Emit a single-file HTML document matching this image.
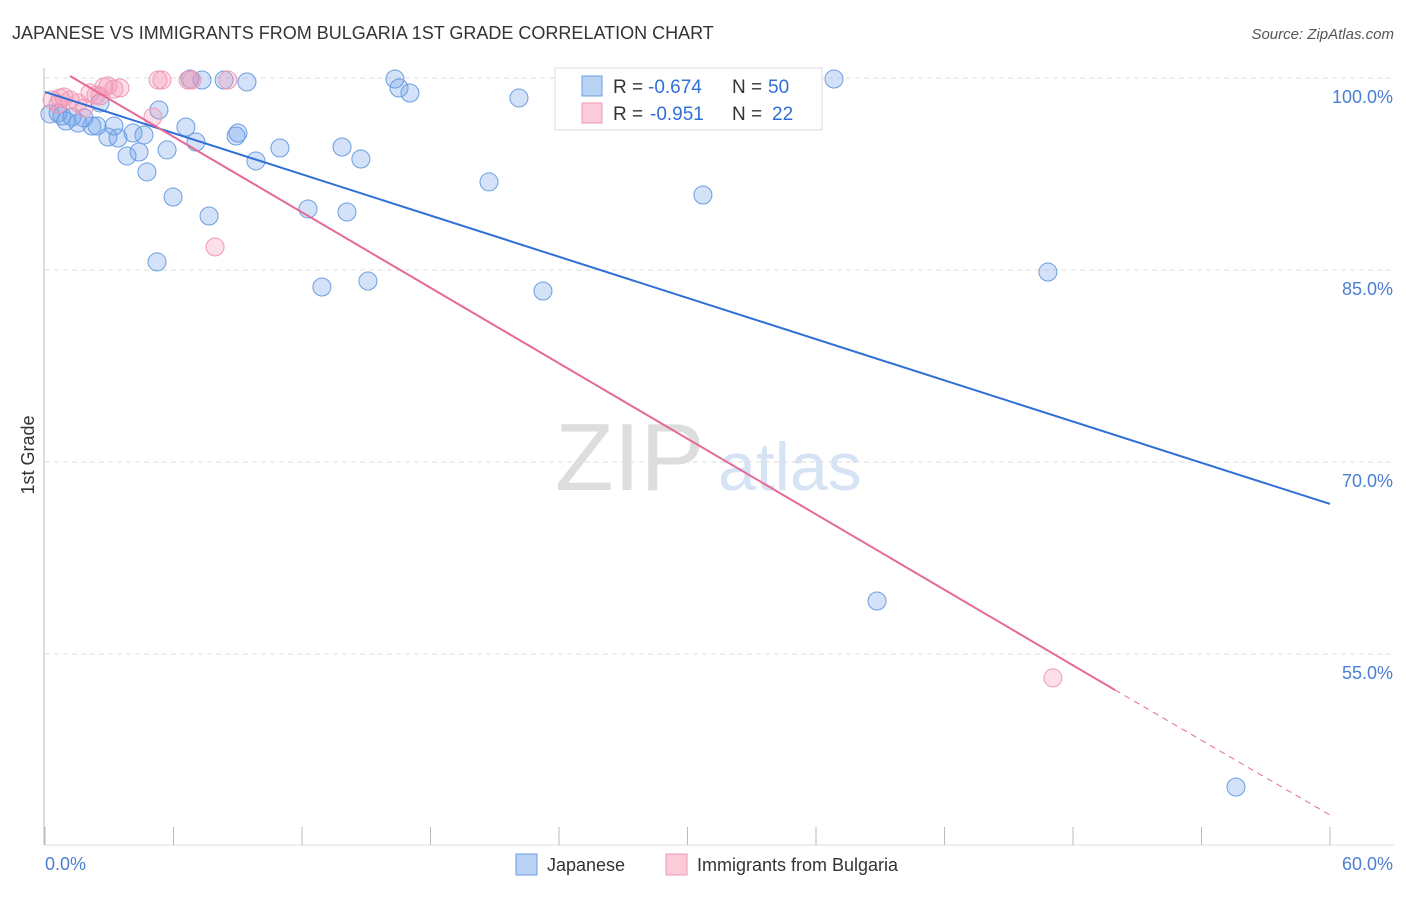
<!DOCTYPE html>
<html><head><meta charset="utf-8"><style>
body{margin:0;background:#fff;font-family:"Liberation Sans",sans-serif;}
svg text{font-family:"Liberation Sans",sans-serif;}
</style></head><body>
<svg id="chart" width="1406" height="892">
<text x="12" y="39" font-size="18" fill="#333">JAPANESE VS IMMIGRANTS FROM BULGARIA 1ST GRADE CORRELATION CHART</text>
<text x="1394" y="39" font-size="15" fill="#555" font-style="italic" text-anchor="end">Source: ZipAtlas.com</text>
<text x="555" y="490" font-size="96" fill="#ddd" font-family="Liberation Serif,serif">ZIP</text>
<text x="718" y="490" font-size="68" fill="#d5e3f5">atlas</text>
<text transform="translate(34,455) rotate(-90)" font-size="18" fill="#333" text-anchor="middle">1st Grade</text>
<g id="grid"></g><g id="marks"></g>
<g>
<rect x="555" y="68" width="267" height="62" fill="#fff" stroke="#ddd"/>
<rect x="582" y="76" width="20" height="20" fill="#b9d3f5" stroke="#6b9ee0"/>
<rect x="582" y="103" width="20" height="20" fill="#fbcbd9" stroke="#ee9ab4"/>
<text x="613" y="93" font-size="19" fill="#333">R =</text>
<text x="648" y="93" font-size="19" fill="#2f6fd6">-0.674</text>
<text x="732" y="93" font-size="19" fill="#333">N =</text>
<text x="768" y="93" font-size="19" fill="#2f6fd6">50</text>
<text x="613" y="120" font-size="19" fill="#333">R =</text>
<text x="650" y="120" font-size="19" fill="#2f6fd6">-0.951</text>
<text x="732" y="120" font-size="19" fill="#333">N =</text>
<text x="772" y="120" font-size="19" fill="#2f6fd6">22</text>
</g>
<g>
<rect x="516" y="854" width="21" height="21" fill="#b9d3f5" stroke="#6b9ee0"/>
<text x="547" y="871" font-size="18" fill="#333">Japanese</text>
<rect x="666" y="854" width="21" height="21" fill="#fbcbd9" stroke="#ee9ab4"/>
<text x="697" y="871" font-size="18" fill="#333">Immigrants from Bulgaria</text>
</g>
</svg>
<script>
const blueX=[0.23,0.61,0.98,1.26,1.54,1.82,2.19,2.43,2.57,2.94,3.22,3.41,3.83,4.11,4.39,4.62,4.76,5.32,5.70,5.98,6.58,7.05,7.66,5.23,7.33,8.36,9.43,8.92,9.01,9.85,10.97,12.28,12.93,13.87,14.10,14.75,15.08,16.34,16.53,17.04,20.73,22.13,23.25,30.72,36.84,46.83,38.85,55.61,6.77,0.79];
const blueY=[97.19,97.27,96.64,96.95,96.48,96.88,96.25,96.25,98.05,95.39,96.25,95.31,93.91,95.70,94.22,95.55,92.66,97.50,94.38,90.70,96.17,95.0,89.22,85.63,99.84,99.84,99.69,95.47,95.70,93.52,94.53,89.77,83.67,94.61,89.53,93.67,84.14,99.92,99.22,98.83,91.88,98.44,83.36,90.86,99.92,84.84,59.14,44.61,99.92,97.03];
const pinkX=[0.33,0.61,0.89,1.17,1.54,1.82,2.10,2.38,2.75,2.94,3.22,3.50,5.04,5.28,5.46,6.68,6.86,8.54,7.94,47.06,2.57,0.70];
const pinkY=[98.28,97.97,98.52,98.28,98.05,97.66,98.83,98.67,99.30,99.38,99.14,99.22,96.95,99.84,99.84,99.84,99.84,99.84,86.80,53.13,98.59,98.44];
const blueLine=[[0,98.91],[60,66.72]];
const pinkLine=[[1.167,100.16],[49.96,52.19],[60,42.42]];
const yTicks=[100,85,70,55];
const xTickLabels=["0.0%","60.0%"];
const NS="http://www.w3.org/2000/svg";
const sx=v=>45+v/60*1285, sy=v=>78+(100-v)/15*192;
function el(t,a,p){const e=document.createElementNS(NS,t);for(const k in a)e.setAttribute(k,a[k]);p.appendChild(e);return e;}
const grid=document.getElementById('grid'),marks=document.getElementById('marks');
yTicks.forEach(v=>{
 const l=el('line',{x1:45,x2:1394,y1:sy(v),y2:sy(v),stroke:'#ddd','stroke-dasharray':'5,4'},grid);
 
 
 const t=el('text',{x:1393,y:sy(v)+25,'font-size':18,fill:'#4a7fd4','text-anchor':'end'},grid);
 t.textContent=v.toFixed(1)+'%';
 
 
});
const ax=el('line',{x1:44,x2:44,y1:68,y2:845,stroke:'#bbb'},grid);


const bx=el('line',{x1:44,x2:1394,y1:845,y2:845,stroke:'#ddd'},grid);


for(let i=0;i<=10;i++){
 const t=el('line',{x1:sx(i*6),x2:sx(i*6),y1:827,y2:845,stroke:'#bbb'},grid);
 
 
}
xTickLabels.forEach((s,i)=>{
 const t=el('text',{x:i?1393:45,y:870,'font-size':18,fill:'#4a7fd4','text-anchor':i?'end':'start'},grid);
 t.textContent=s;
 
 
});
blueX.forEach((x,i)=>{
 const c=el('circle',{cx:sx(x),cy:sy(blueY[i]),r:9,fill:'rgba(110,160,235,0.3)',stroke:'#6b9ee0','stroke-width':1},marks);
 
 
});
pinkX.forEach((x,i)=>{
 const c=el('circle',{cx:sx(x),cy:sy(pinkY[i]),r:9,fill:'rgba(245,150,180,0.3)',stroke:'#ee9ab4','stroke-width':1},marks);
 
 
});
const bl=el('line',{x1:sx(blueLine[0][0]),y1:sy(blueLine[0][1]),x2:sx(blueLine[1][0]),y2:sy(blueLine[1][1]),stroke:'#2f6fd6','stroke-width':2},marks);


const pl=el('line',{x1:sx(pinkLine[0][0]),y1:sy(pinkLine[0][1]),x2:sx(pinkLine[1][0]),y2:sy(pinkLine[1][1]),stroke:'#e66a96','stroke-width':2},marks);


const pd=el('line',{x1:sx(pinkLine[1][0]),y1:sy(pinkLine[1][1]),x2:sx(pinkLine[2][0]),y2:sy(pinkLine[2][1]),stroke:'#e66a96','stroke-width':1,'stroke-dasharray':'6,5'},marks);


</script>
</body></html>
